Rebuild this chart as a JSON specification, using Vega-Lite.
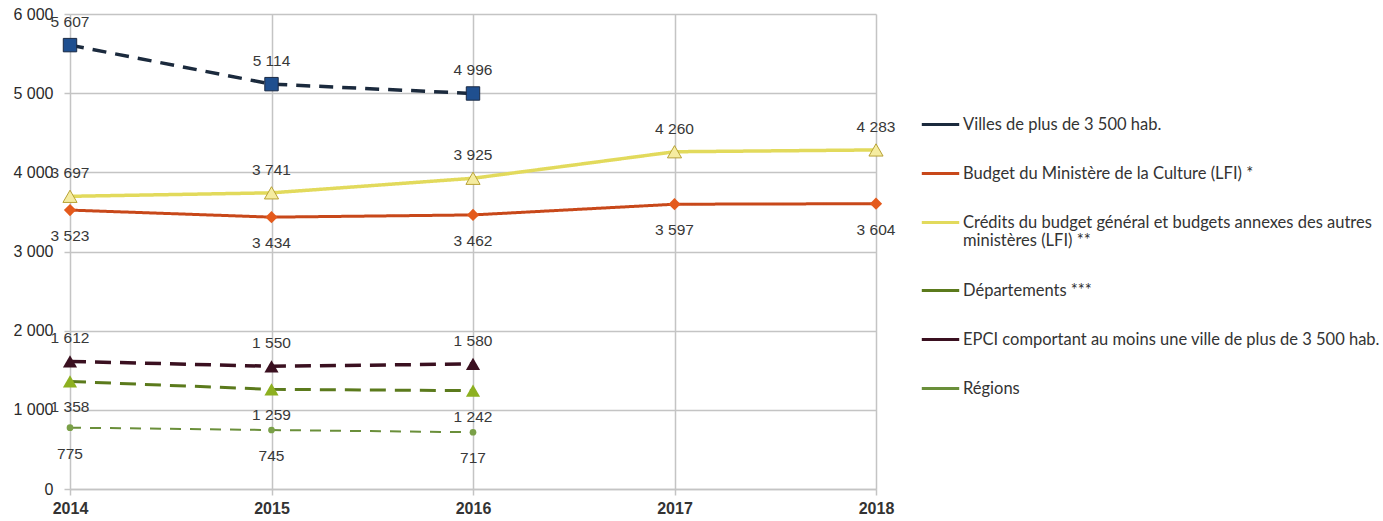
{
  "$schema": "https://vega.github.io/schema/vega-lite/v6.json",
  "width": 806,
  "height": 475,
  "autosize": {"type": "none"},
  "padding": {"left": 70, "top": 14, "right": 507, "bottom": 32},
  "background": "white",
  "config": {
    "locale": {"number": {"decimal": ",", "thousands": " ", "grouping": [3], "currency": ["", " €"]}},
    "view": {"stroke": null},
    "font": "Liberation Sans"
  },
  "data": {
    "values": [
      {"series": "Villes de plus de 3 500 hab.", "year": "2014", "value": 5607},
      {"series": "Villes de plus de 3 500 hab.", "year": "2015", "value": 5114},
      {"series": "Villes de plus de 3 500 hab.", "year": "2016", "value": 4996},
      {"series": "Budget du Ministère de la Culture (LFI) *", "year": "2014", "value": 3523},
      {"series": "Budget du Ministère de la Culture (LFI) *", "year": "2015", "value": 3434},
      {"series": "Budget du Ministère de la Culture (LFI) *", "year": "2016", "value": 3462},
      {"series": "Budget du Ministère de la Culture (LFI) *", "year": "2017", "value": 3597},
      {"series": "Budget du Ministère de la Culture (LFI) *", "year": "2018", "value": 3604},
      {"series": "Crédits du budget général et budgets annexes des autres ministères (LFI) **", "year": "2014", "value": 3697},
      {"series": "Crédits du budget général et budgets annexes des autres ministères (LFI) **", "year": "2015", "value": 3741},
      {"series": "Crédits du budget général et budgets annexes des autres ministères (LFI) **", "year": "2016", "value": 3925},
      {"series": "Crédits du budget général et budgets annexes des autres ministères (LFI) **", "year": "2017", "value": 4260},
      {"series": "Crédits du budget général et budgets annexes des autres ministères (LFI) **", "year": "2018", "value": 4283},
      {"series": "Départements ***", "year": "2014", "value": 1358},
      {"series": "Départements ***", "year": "2015", "value": 1259},
      {"series": "Départements ***", "year": "2016", "value": 1242},
      {"series": "EPCI comportant au moins une ville de plus de 3 500 hab.", "year": "2014", "value": 1612},
      {"series": "EPCI comportant au moins une ville de plus de 3 500 hab.", "year": "2015", "value": 1550},
      {"series": "EPCI comportant au moins une ville de plus de 3 500 hab.", "year": "2016", "value": 1580},
      {"series": "Régions", "year": "2014", "value": 775},
      {"series": "Régions", "year": "2015", "value": 745},
      {"series": "Régions", "year": "2016", "value": 717}
    ]
  },
  "encoding": {
    "x": {
      "field": "year", "type": "ordinal",
      "scale": {"type": "point", "padding": 0},
      "axis": {
        "title": null, "labelAngle": 0, "labelFontSize": 16, "labelColor": "#333",
        "labelFontWeight": "bold", "labelPadding": 5,
        "grid": true, "gridColor": "#c4c4c4", "gridWidth": 1.5,
        "domainColor": "#c4c4c4", "domainWidth": 1.5,
        "tickColor": "#c4c4c4", "tickSize": 6, "tickWidth": 1.5
      }
    },
    "y": {
      "field": "value", "type": "quantitative",
      "scale": {"domain": [0, 6000], "nice": false},
      "axis": {
        "title": null, "values": [0, 1000, 2000, 3000, 4000, 5000, 6000],
        "format": ",d", "labelFontSize": 16, "labelColor": "#2a2a2a",
        "labelPadding": 11, "domain": false,
        "tickColor": "#c4c4c4", "tickSize": 6, "tickWidth": 1.5,
        "grid": true, "gridColor": "#c4c4c4", "gridWidth": 1.5
      }
    }
  },
  "layer": [
    {
      "mark": {"type": "line"},
      "encoding": {
        "stroke": {
          "field": "series", "type": "nominal",
          "scale": {
            "domain": [
              "Villes de plus de 3 500 hab.",
              "Budget du Ministère de la Culture (LFI) *",
              "Crédits du budget général et budgets annexes des autres ministères (LFI) **",
              "Départements ***",
              "EPCI comportant au moins une ville de plus de 3 500 hab.",
              "Régions"
            ],
            "range": ["#1b2a3d", "#c8481a", "#e2da5c", "#5b7a1c", "#3a1020", "#6a8f3a"]
          },
          "legend": {
            "title": null, "orient": "none", "legendX": 850, "legendY": 90,
            "symbolType": "stroke", "symbolSize": 1400, "symbolStrokeWidth": 3,
            "labelFont": "Lato", "labelFontSize": 16.5, "labelColor": "#333",
            "labelLimit": 520, "rowPadding": 20, "labelOffset": 2,
            "labelExpr": "datum.label === 'Crédits du budget général et budgets annexes des autres ministères (LFI) **' ? ['Crédits du budget général et budgets annexes des autres', 'ministères (LFI) **'] : datum.label"
          }
        },
        "strokeDash": {
          "field": "series", "type": "nominal",
          "scale": {
            "type": "ordinal",
            "domain": [
              "Budget du Ministère de la Culture (LFI) *",
              "Crédits du budget général et budgets annexes des autres ministères (LFI) **",
              "Départements ***",
              "EPCI comportant au moins une ville de plus de 3 500 hab.",
              "Régions",
              "Villes de plus de 3 500 hab."
            ],
            "range": [[1, 0], [1, 0], [16, 9], [16, 9], [11, 9], [14, 9]]
          },
          "legend": null
        },
        "strokeWidth": {
          "field": "series", "type": "nominal",
          "scale": {
            "type": "ordinal",
            "domain": [
              "Budget du Ministère de la Culture (LFI) *",
              "Crédits du budget général et budgets annexes des autres ministères (LFI) **",
              "Départements ***",
              "EPCI comportant au moins une ville de plus de 3 500 hab.",
              "Régions",
              "Villes de plus de 3 500 hab."
            ],
            "range": [3, 3.5, 3, 3.5, 2, 3.5]
          },
          "legend": null
        }
      }
    },
    {
      "mark": {"type": "point", "filled": true, "strokeWidth": 1, "opacity": 1},
      "encoding": {
        "shape": {
          "field": "series", "type": "nominal",
          "scale": {
            "domain": [
              "Budget du Ministère de la Culture (LFI) *",
              "Crédits du budget général et budgets annexes des autres ministères (LFI) **",
              "Départements ***",
              "EPCI comportant au moins une ville de plus de 3 500 hab.",
              "Régions",
              "Villes de plus de 3 500 hab."
            ],
            "range": ["diamond", "triangle-up", "triangle-up", "triangle-up", "circle", "square"]
          },
          "legend": null
        },
        "size": {
          "field": "series", "type": "nominal",
          "scale": {
            "type": "ordinal",
            "domain": [
              "Budget du Ministère de la Culture (LFI) *",
              "Crédits du budget général et budgets annexes des autres ministères (LFI) **",
              "Départements ***",
              "EPCI comportant au moins une ville de plus de 3 500 hab.",
              "Régions",
              "Villes de plus de 3 500 hab."
            ],
            "range": [150, 200, 200, 200, 45, 180]
          },
          "legend": null
        },
        "fill": {
          "field": "series", "type": "nominal",
          "scale": {
            "domain": [
              "Budget du Ministère de la Culture (LFI) *",
              "Crédits du budget général et budgets annexes des autres ministères (LFI) **",
              "Départements ***",
              "EPCI comportant au moins une ville de plus de 3 500 hab.",
              "Régions",
              "Villes de plus de 3 500 hab."
            ],
            "range": ["#e45a1c", "#f5eca0", "#8db020", "#3a1020", "#7aa048", "#1f4f8f"]
          },
          "legend": null
        },
        "stroke": {
          "condition": {"test": "datum.series === 'Crédits du budget général et budgets annexes des autres ministères (LFI) **'", "value": "#b8a235"},
          "value": "#1a2a44"
        },
        "strokeOpacity": {
          "condition": {"test": "datum.series === 'Crédits du budget général et budgets annexes des autres ministères (LFI) **' || datum.series === 'Villes de plus de 3 500 hab.'", "value": 1},
          "value": 0
        }
      }
    },
    {
      "transform": [{"filter": {"field": "series", "oneOf": ["Villes de plus de 3 500 hab.", "Crédits du budget général et budgets annexes des autres ministères (LFI) **", "EPCI comportant au moins une ville de plus de 3 500 hab."]}}],
      "mark": {"type": "text", "dy": -23, "fontSize": 15.5, "color": "#383838"},
      "encoding": {"text": {"field": "value", "type": "quantitative", "format": ",d"}}
    },
    {
      "transform": [{"filter": {"field": "series", "oneOf": ["Budget du Ministère de la Culture (LFI) *", "Départements ***", "Régions"]}}],
      "mark": {"type": "text", "dy": 26, "fontSize": 15.5, "color": "#383838"},
      "encoding": {"text": {"field": "value", "type": "quantitative", "format": ",d"}}
    }
  ]
}
